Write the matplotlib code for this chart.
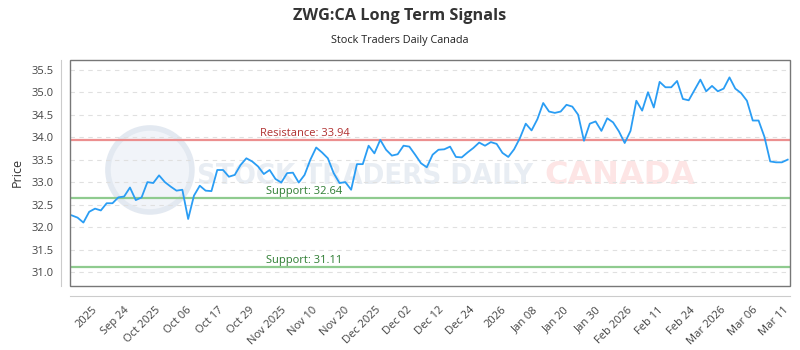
import matplotlib
matplotlib.use("Agg")
import matplotlib.pyplot as plt
from matplotlib.patches import Rectangle, Ellipse

prices = [32.26, 32.21, 32.10, 32.34, 32.41, 32.37, 32.53, 32.53, 32.66, 32.68,
          32.88, 32.60, 32.66, 33.00, 32.98, 33.15, 33.00, 32.90, 32.81, 32.83,
          32.18, 32.70, 32.92, 32.81, 32.80, 33.27, 33.27, 33.12, 33.16, 33.38,
          33.53, 33.46, 33.35, 33.18, 33.27, 33.07, 32.99, 33.20, 33.21, 32.99,
          33.16, 33.50, 33.77, 33.66, 33.53, 33.20, 32.98, 33.00, 32.83, 33.40,
          33.40, 33.81, 33.64, 33.94, 33.72, 33.59, 33.62, 33.81, 33.79, 33.61,
          33.42, 33.33, 33.61, 33.72, 33.73, 33.79, 33.56, 33.55, 33.66, 33.76,
          33.88, 33.81, 33.89, 33.85, 33.65, 33.56, 33.73, 33.98, 34.30, 34.15,
          34.40, 34.76, 34.57, 34.54, 34.57, 34.72, 34.68, 34.50, 33.92, 34.30,
          34.35, 34.14, 34.42, 34.33, 34.13, 33.87, 34.14, 34.81, 34.59, 35.00,
          34.66, 35.23, 35.11, 35.11, 35.25, 34.85, 34.82, 35.05, 35.28, 35.02,
          35.14, 35.02, 35.08, 35.33, 35.08, 34.98, 34.81, 34.37, 34.37, 34.01,
          33.46, 33.44, 33.44, 33.50]

tick_labels = ["2025", "Sep 24", "Oct 2025", "Oct 06", "Oct 17", "Oct 29",
               "Nov 2025", "Nov 10", "Nov 20", "Dec 2025", "Dec 02", "Dec 12",
               "Dec 24", "2026", "Jan 08", "Jan 20", "Jan 30", "Feb 2026",
               "Feb 11", "Feb 24", "Mar 2026", "Mar 06", "Mar 11"]

resistance = [33.94]
supports = [32.64, 31.11]
y_ticks = [31.0, 31.5, 32.0, 32.5, 33.0, 33.5, 34.0, 34.5, 35.0, 35.5]

plt.rcParams['font.family'] = ['Open Sans', 'DejaVu Sans']

fig = plt.figure(figsize=(8, 3.5), dpi=100)
ax = fig.add_axes([0.0875, 0.183, 0.9, 0.646])

# spines first (setting position resets tick settings)
for side in ['top', 'right']:
    ax.spines[side].set_visible(False)
ax.spines['left'].set_position(('outward', 6.5))
ax.spines['bottom'].set_position(('outward', 7.5))
ax.spines['left'].set_color('#cccccc')
ax.spines['bottom'].set_color('#cccccc')

x = list(range(len(prices)))
ax.plot(x, prices, color='#2a9df4', lw=1.3, zorder=5)

ax.set_xlim(-0.3, 123.4)
ax.set_ylim(30.69, 35.72)

# watermark
ax.add_patch(Ellipse((0.111, 0.513), 84/720, 84/226, transform=ax.transAxes,
                     facecolor='#f1f4f9', edgecolor='#e3e9f1', lw=4, zorder=0))
ax.text(0.41, 0.487, "STOCK TRADERS DAILY", transform=ax.transAxes,
        ha='center', va='center', fontsize=21, fontweight='bold',
        color='#e8edf3', family=['DejaVu Sans'], fontstretch='condensed', zorder=0)
ax.text(0.764, 0.487, "CANADA", transform=ax.transAxes,
        ha='center', va='center', fontsize=23, fontweight='bold',
        color='#fde5e5', family=['DejaVu Sans'], zorder=0)

for r in resistance:
    ax.axhline(r, color='#ec8f8f', lw=1.6, zorder=3)
    ax.text(40, r + 0.03, f"Resistance: {r:.2f}", color='#b03030',
            ha='center', va='bottom', fontsize=8, zorder=4)
for s in supports:
    ax.axhline(s, color='#8fcb8f', lw=1.6, zorder=3)
    ax.text(40, s + 0.03, f"Support: {s:.2f}", color='#2e7d32',
            ha='center', va='bottom', fontsize=8, zorder=4)

ax.set_yticks(y_ticks)
ax.set_yticklabels([f"{v:.1f}" for v in y_ticks])
ax.yaxis.grid(True, color='#e0e0e0', ls=(0, (4, 4)), lw=0.8)
ax.set_axisbelow(True)

tick_pos = [3.5 + 5.4 * i for i in range(len(tick_labels))]
ax.set_xticks(tick_pos)
ax.set_xticklabels(tick_labels)

ax.tick_params(axis='both', length=0, labelsize=8, colors='#444444')
ax.tick_params(axis='x', pad=6)
ax.tick_params(axis='y', pad=5)
for lab in ax.get_xticklabels():
    lab.set_rotation(45)
    lab.set_ha('right')
    lab.set_rotation_mode('anchor')

ax.add_patch(Rectangle((0, 0), 1, 1, transform=ax.transAxes, fill=False,
                       edgecolor='#777777', lw=1.0, clip_on=False, zorder=6))

ax.set_ylabel("Price", fontsize=9, color='#333333', labelpad=6)

fig.text(0.5, 0.953, "ZWG:CA Long Term Signals", ha='center', va='center',
         fontsize=11.7, fontweight='bold', color='#333333')
fig.text(0.5, 0.885, "Stock Traders Daily Canada", ha='center', va='center',
         fontsize=7.8, color='#222222')

fig.savefig("out.png", dpi=100)
